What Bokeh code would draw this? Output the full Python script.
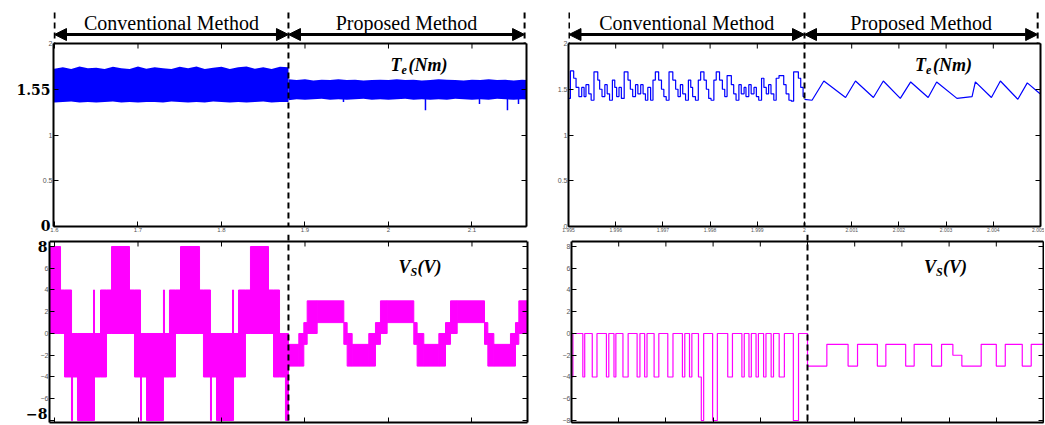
from bokeh.plotting import figure
from bokeh.models import Range1d, LinearAxis, Arrow, NormalHead, Label, FixedTicker, Span
from bokeh.layouts import column, row
from bokeh.embed import file_html
from bokeh.resources import INLINE

# ---------------- data ----------------
# Left column (long time window, s)
switch_left = 1.8802
tl_xticks = [1.6, 1.7, 1.8, 1.9, 2.0, 2.1]
tl_yticks = [0, 0.5, 1, 1.5, 2]

# Torque band envelope, conventional
tl_conv_t = [1.59, 1.60, 1.61, 1.62, 1.63, 1.64, 1.65, 1.66, 1.67, 1.68, 1.69, 1.70, 1.71, 1.72, 1.73,
             1.74, 1.75, 1.76, 1.77, 1.78, 1.79, 1.80, 1.81, 1.82, 1.83, 1.84, 1.85, 1.86, 1.87, 1.8802]
tl_conv_hi = [1.745, 1.725, 1.74, 1.72, 1.75, 1.73, 1.735, 1.72, 1.745, 1.73, 1.72, 1.75, 1.725, 1.74, 1.73,
              1.72, 1.745, 1.73, 1.75, 1.72, 1.735, 1.745, 1.72, 1.74, 1.75, 1.725, 1.74, 1.72, 1.745, 1.74]
tl_conv_lo = [1.36, 1.355, 1.36, 1.365, 1.355, 1.36, 1.355, 1.36, 1.365, 1.355, 1.36, 1.355, 1.36, 1.36, 1.355,
              1.365, 1.36, 1.355, 1.36, 1.355, 1.365, 1.36, 1.355, 1.36, 1.355, 1.36, 1.365, 1.355, 1.36, 1.36]
# Torque band envelope, proposed
tl_prop_t = [1.8802, 1.89, 1.90, 1.91, 1.92, 1.93, 1.94, 1.95, 1.96, 1.97, 1.98, 1.99, 2.00, 2.01, 2.02,
             2.03, 2.04, 2.05, 2.06, 2.07, 2.08, 2.09, 2.10, 2.11, 2.12, 2.13, 2.14, 2.15, 2.16, 2.17]
tl_prop_hi = [1.61, 1.60, 1.61, 1.595, 1.605, 1.60, 1.61, 1.60, 1.605, 1.595, 1.60, 1.605, 1.60, 1.61, 1.60,
              1.605, 1.595, 1.60, 1.61, 1.605, 1.60, 1.595, 1.605, 1.60, 1.61, 1.60, 1.605, 1.595, 1.605, 1.60]
tl_prop_lo = [1.38, 1.39, 1.385, 1.39, 1.395, 1.385, 1.39, 1.385, 1.39, 1.395, 1.385, 1.39, 1.385, 1.39, 1.395,
              1.385, 1.39, 1.385, 1.39, 1.385, 1.395, 1.39, 1.385, 1.39, 1.385, 1.395, 1.39, 1.385, 1.39, 1.385]
tl_spike_t = [1.9461, 2.0443, 2.1090, 2.1425, 2.1557]
tl_spike_lo = [1.36, 1.27, 1.34, 1.27, 1.34]
tl_spike_base = 1.40

# Voltage band envelope (edges + low/high per segment)
bl_conv_t = [1.5940, 1.6072, 1.6120, 1.6204, 1.6216, 1.6275, 1.6467, 1.6479, 1.6551, 1.6623, 1.6683,
             1.6898, 1.6958, 1.7030, 1.7042, 1.7102, 1.7305, 1.7317, 1.7377, 1.7449, 1.7509, 1.7737,
             1.7784, 1.7868, 1.7880, 1.7940, 1.8132, 1.8144, 1.8204, 1.8287, 1.8347, 1.8563, 1.8623,
             1.8695, 1.8766, 1.8802]
bl_conv_lo = [0, 0, -4, -8, -4, -8, -8, -4, -4, 0, 0, 0, -4, -8, -4, -8, -4, -4, -4, 0, 0, 0, -4, -8,
              -4, -8, -8, -4, -4, 0, 0, 0, -4, -4, -8]
bl_conv_hi = [8, 4, 4, 0, 0, 0, 4, 0, 4, 4, 8, 4, 4, 0, 0, 0, 4, 0, 4, 4, 8, 4, 4, 0, 0, 0, 4, 0, 4,
              4, 8, 4, 4, 0, 0]
bl_prop_t = [1.8802, 1.8926, 1.8986, 1.9026, 1.9146, 1.9465, 1.9505, 1.9565, 1.9764, 1.9844, 1.9904,
             1.9984, 2.0303, 2.0343, 2.0423, 2.0603, 2.0683, 2.0743, 2.0823, 2.1150, 2.1190, 2.1262,
             2.1461, 2.1521, 2.1561, 2.1700]
bl_prop_lo = [-3, -3, -1, 0, 1, -1, -3, -3, -3, -1, 0, 1, -1, -3, -3, -3, -1, 0, 1, -1, -3, -3, -3, -1, 0]
bl_prop_hi = [-1, 0, 1, 3, 3, 1, 0, -1, 0, 1, 3, 3, 1, 0, -1, 0, 1, 3, 3, 1, 0, -1, 0, 1, 3]
v_yticks = [-8, -6, -4, -2, 0, 2, 4, 6, 8]

# Right column (zoomed time window, s)
switch_right = 2.0
tr_xticks = [1.995, 1.996, 1.997, 1.998, 1.999, 2.0, 2.001, 2.002, 2.003, 2.004, 2.005]
tr_conv_t = [1.99500, 1.99504, 1.99511, 1.99516, 1.99522, 1.99528, 1.99533, 1.99537, 1.99543, 1.99548,
             1.99554, 1.99562, 1.99566, 1.99571, 1.99577, 1.99582, 1.99587, 1.99593, 1.99598, 1.99602,
             1.99607, 1.99612, 1.99618, 1.99626, 1.99631, 1.99636, 1.99642, 1.99647, 1.99653, 1.99658,
             1.99663, 1.99668, 1.99674, 1.99679, 1.99684, 1.99691, 1.99697, 1.99702, 1.99707, 1.99713,
             1.99721, 1.99727, 1.99732, 1.99737, 1.99742, 1.99748, 1.99754, 1.99759, 1.99763, 1.99769,
             1.99775, 1.99780, 1.99787, 1.99792, 1.99797, 1.99802, 1.99808, 1.99813, 1.99820, 1.99826,
             1.99831, 1.99836, 1.99845, 1.99850, 1.99855, 1.99861, 1.99866, 1.99872, 1.99876, 1.99882,
             1.99887, 1.99893, 1.99898, 1.99903, 1.99909, 1.99914, 1.99919, 1.99924, 1.99929, 1.99935,
             1.99940, 1.99946, 1.99956, 1.99961, 1.99967, 1.99972, 1.99977, 1.99987, 1.99992, 1.99997,
             2.00000]
tr_conv_v = [1.40, 1.70, 1.62, 1.52, 1.42, 1.52, 1.42, 1.55, 1.45, 1.38,
             1.69, 1.60, 1.50, 1.42, 1.55, 1.45, 1.38, 1.60, 1.52, 1.42,
             1.52, 1.40, 1.69, 1.60, 1.50, 1.42, 1.55, 1.45, 1.55, 1.45,
             1.38, 1.52, 1.38, 1.60, 1.69, 1.60, 1.50, 1.42, 1.38, 1.69,
             1.60, 1.50, 1.42, 1.55, 1.45, 1.38, 1.60, 1.52, 1.42, 1.38,
             1.60, 1.69, 1.60, 1.50, 1.40, 1.38, 1.60, 1.69, 1.60, 1.50,
             1.42, 1.65, 1.55, 1.45, 1.38, 1.55, 1.45, 1.52, 1.42, 1.55,
             1.45, 1.52, 1.42, 1.38, 1.62, 1.52, 1.45, 1.55, 1.45, 1.38,
             1.62, 1.65, 1.55, 1.45, 1.38, 1.37, 1.69, 1.62, 1.52, 1.42,
             1.42]
tr_prop_t = [2.00000, 2.00016, 2.00041, 2.00087, 2.00108, 2.00146, 2.00167, 2.00203, 2.00225, 2.00262,
             2.00280, 2.00323, 2.00355, 2.00362, 2.00396, 2.00415, 2.00452, 2.00472, 2.00499]
tr_prop_v = [1.39, 1.38, 1.59, 1.41, 1.59, 1.41, 1.59, 1.40, 1.58, 1.41,
             1.58, 1.40, 1.42, 1.58, 1.41, 1.59, 1.39, 1.57, 1.45]

br_conv_t = [1.99500, 1.99503, 1.99524, 1.99528, 1.99544, 1.99554, 1.99574, 1.99579, 1.99590, 1.99594,
             1.99609, 1.99620, 1.99639, 1.99645, 1.99655, 1.99660, 1.99675, 1.99685, 1.99704, 1.99715,
             1.99735, 1.99740, 1.99750, 1.99755, 1.99769, 1.99775, 1.99780, 1.99799, 1.99809, 1.99831,
             1.99841, 1.99861, 1.99866, 1.99876, 1.99881, 1.99891, 1.99896, 1.99907, 1.99912, 1.99923,
             1.99928, 1.99940, 1.99951, 1.99970, 1.99981]
br_conv_v = [-4, 0, -4, 0, -4, 0, -4, 0, -4, 0, -4, 0, -4, 0, -4, 0, -4, 0, -4, 0, -4, 0, -4, 0,
             -4, -8, 0, -8, 0, -4, 0, -4, 0, -4, 0, -4, 0, -4, 0, -4, 0, -4, 0, -8, 0]
br_prop_t = [2.00000, 2.00041, 2.00086, 2.00106, 2.00148, 2.00166, 2.00208, 2.00226, 2.00263, 2.00284,
             2.00308, 2.00327, 2.00368, 2.00400, 2.00419, 2.00455, 2.00474, 2.00500]
br_prop_v = [-3, -1, -3, -1, -3, -1, -3, -1, -3, -1, -2, -3, -1, -3, -1, -3, -1, -1]

# highlighted (bold) tick labels; positions nudged slightly inward so they stay on the canvas
tl_bold_ticks = [0.015, 1.5]
tl_bold_labels = {0.015: "0", 1.5: "1.55"}
bl_bold_ticks = [-7.4, 8]
bl_bold_labels = {8: "8", -7.4: "\u22128"}

# ---------------- style ----------------
SERIF = "Liberation Serif"
BOLD_FONT = "DejaVu Serif"
BLUE = "#0000ff"
MAG = "#ff00ff"

# vertical data ranges (frames are extended so the header / gap are inside them)
T_RANGE = (0, 2.47)          # torque panels, plot box is 0..2
T_BOX = 2.0
V_RANGE = (-8.184, 9.103)    # voltage panels, plot box is -8.18..8.46
V_BOX = 8.46


def style_axis(ax, ticks, bounds, size="7px", overrides=None, labels=True):
    ax.ticker = FixedTicker(ticks=ticks, minor_ticks=[])
    ax.bounds = bounds
    ax.axis_line_width = 2
    ax.axis_line_color = "black"
    ax.major_tick_in = 5
    ax.major_tick_out = 0
    ax.minor_tick_in = 0
    ax.minor_tick_out = 0
    ax.major_tick_line_color = "black"
    if labels:
        ax.major_label_text_font_size = size
        ax.major_label_text_color = "#555555"
        ax.major_label_text_font = "Liberation Sans"
        ax.major_label_standoff = 1
        if overrides:
            ax.major_label_overrides = overrides
    else:
        ax.major_label_text_font_size = "0px"
        ax.major_label_text_color = None
        ax.major_label_standoff = 0


def bold_axis(p, ticks, labels, standoff):
    ax = LinearAxis(ticker=FixedTicker(ticks=ticks, minor_ticks=[]), major_label_overrides=labels)
    ax.axis_line_color = None
    ax.major_tick_line_color = None
    ax.minor_tick_line_color = None
    ax.major_tick_in = 0
    ax.major_tick_out = 0
    ax.minor_tick_in = 0
    ax.minor_tick_out = 0
    ax.major_label_standoff = standoff
    ax.major_label_text_font = BOLD_FONT
    ax.major_label_text_font_style = "bold"
    ax.major_label_text_font_size = "14px"
    ax.major_label_text_color = "black"
    p.add_layout(ax, "left")


def make_fig(w, h, xr, yr, box_top, bl, br, bt, bb, xticks, yticks, xsize, xlabels, yover):
    p = figure(width=w, height=h, x_range=Range1d(*xr), y_range=Range1d(*yr),
               output_backend="svg", toolbar_location=None,
               min_border_left=bl, min_border_right=br, min_border_top=bt, min_border_bottom=bb)
    p.outline_line_color = None
    p.xgrid.visible = False
    p.ygrid.visible = False
    p.background_fill_color = "white"
    style_axis(p.xaxis[0], xticks, "auto", xsize, labels=xlabels)
    style_axis(p.yaxis[0], yticks, (yr[0], box_top), "7px", overrides=yover)
    right = LinearAxis()
    style_axis(right, yticks, (yr[0], box_top), labels=False)
    p.add_layout(right, "right")
    # top border of the plot box and its inward ticks
    p.add_layout(Span(location=box_top, dimension="width", line_color="black", line_width=2))
    return p


def top_ticks(p, ticks, y, length):
    p.segment(x0=ticks, x1=ticks, y0=y, y1=y - length, line_color="black", line_width=1)


def dashed(p, x, y0, y1):
    p.segment(x0=[x], x1=[x], y0=[y0], y1=[y1], line_color="black", line_width=2, line_dash="6 4")


def header(p, t0, ts, t1, y_frame, y_arrow, y_text, y_top, y_bottom):
    dashed(p, t0, y_top, y_frame)
    dashed(p, t1, y_top, y_frame)
    dashed(p, ts, y_top, y_bottom)
    p.add_layout(Label(x=(t0 + ts) / 2, y=y_text, text="Conventional Method", text_align="center",
                       text_baseline="middle", text_font=SERIF, text_font_size="20px",
                       text_color="black"))
    p.add_layout(Label(x=(ts + t1) / 2, y=y_text, text="Proposed Method", text_align="center",
                       text_baseline="middle", text_font=SERIF, text_font_size="20px",
                       text_color="black"))
    for a, b in [(t0, ts), (ts, t1)]:
        p.add_layout(Arrow(start=NormalHead(size=12, fill_color="black", line_color="black"),
                           end=NormalHead(size=12, fill_color="black", line_color="black"),
                           x_start=a, y_start=y_arrow, x_end=b, y_end=y_arrow,
                           line_color="black", line_width=3))


def sym(p, x, y, y_sub, main, sub, rest, w_main, w_sub):
    kw = dict(text_font=SERIF, text_font_style="bold italic", text_baseline="middle",
              text_align="left", text_color="black")
    p.add_layout(Label(x=x, y=y, text=main, text_font_size="18px", **kw))
    p.add_layout(Label(x=x, y=y_sub, x_offset=w_main, text=sub, text_font_size="12px", **kw))
    p.add_layout(Label(x=x, y=y, x_offset=w_main + w_sub, text=rest, text_font_size="18px", **kw))


# ---------------- top-left: torque, long window ----------------
tl_x = (1.5988, 2.1653)
tl = make_fig(540, 234, tl_x, T_RANGE, T_BOX, 53, 14, 0, 8, tl_xticks, tl_yticks, "6px", True,
              {0: "", 1.5: ""})
bold_axis(tl, tl_bold_ticks, tl_bold_labels, -11)
tl.varea(x=tl_conv_t, y1=tl_conv_lo, y2=tl_conv_hi, fill_color=BLUE)
tl.varea(x=tl_prop_t, y1=tl_prop_lo, y2=tl_prop_hi, fill_color=BLUE)
tl.segment(x0=tl_spike_t, x1=tl_spike_t, y0=tl_spike_base, y1=tl_spike_lo, line_color=BLUE, line_width=1.5)
top_ticks(tl, tl_xticks, T_BOX, 0.055)
sym(tl, 2.0024, 1.76, 1.705, "T", "e", "(Nm)", 11, 7)
header(tl, 1.6, switch_left, 2.163, T_BOX, 2.098, 2.2295, 2.339, T_RANGE[0])

# ---------------- top-right: torque, zoomed ----------------
tr_x = (1.995, 2.005)
tr = make_fig(504, 234, tr_x, T_RANGE, T_BOX, 28, 4, 0, 8, tr_xticks, tl_yticks, "5px", True, None)
tr.step(tr_conv_t, tr_conv_v, mode="after", line_color=BLUE, line_width=1.2)
tr.line(tr_prop_t, tr_prop_v, line_color=BLUE, line_width=1.2)
top_ticks(tr, tr_xticks, T_BOX, 0.055)
sym(tr, 2.00234, 1.76, 1.705, "T", "e", "(Nm)", 11, 7)
header(tr, 1.99501, switch_right, 2.00494, T_BOX, 2.098, 2.2295, 2.339, T_RANGE[0])

# ---------------- bottom-left: voltage, long window ----------------
bl_x = (1.5940, 2.1665)
bl = make_fig(540, 190, bl_x, V_RANGE, V_BOX, 49, 13, 0, 2, tl_xticks, v_yticks, "6px", False,
              {8: "", -8: ""})
bold_axis(bl, bl_bold_ticks, bl_bold_labels, -10)
bl.quad(left=bl_conv_t[:-1], right=bl_conv_t[1:], bottom=bl_conv_lo, top=bl_conv_hi,
        fill_color=MAG, line_color=MAG, line_width=1)
bl.quad(left=bl_prop_t[:-1], right=bl_prop_t[1:], bottom=bl_prop_lo, top=bl_prop_hi,
        fill_color=MAG, line_color=MAG, line_width=1)
top_ticks(bl, tl_xticks, V_BOX, 0.46)
dashed(bl, switch_left, V_RANGE[1], V_RANGE[0])
sym(bl, 2.012, 6.16, 5.61, "V", "S", "(V)", 12, 7)

# ---------------- bottom-right: voltage, zoomed ----------------
br = make_fig(504, 190, tr_x, V_RANGE, V_BOX, 31, 1, 0, 2, tr_xticks, v_yticks, "5px", False, None)
br.step(br_conv_t + br_prop_t, br_conv_v + br_prop_v, mode="after", line_color=MAG, line_width=1.2)
top_ticks(br, tr_xticks, V_BOX, 0.46)
dashed(br, switch_right, V_RANGE[1], V_RANGE[0])
sym(br, 2.00247, 6.16, 5.61, "V", "S", "(V)", 12, 7)

layout = column(row(tl, tr), row(bl, br))
open("out.html", "w").write(file_html(layout, INLINE))
